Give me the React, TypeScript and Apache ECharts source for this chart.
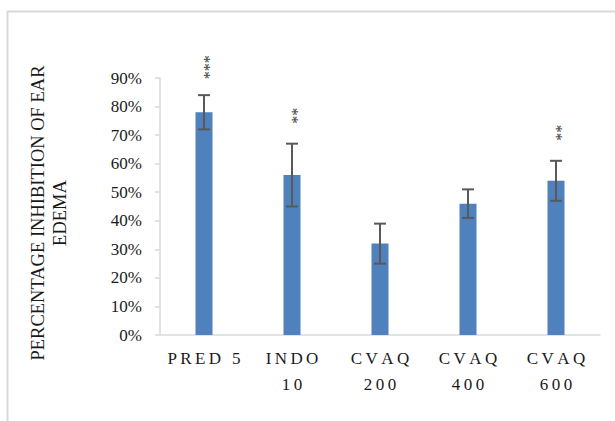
import React, { useEffect, useRef } from "react";
import * as echarts from "echarts";

const categories = ["PRED 5", "INDO\n10", "CVAQ\n200", "CVAQ\n400", "CVAQ\n600"];
const values = [78, 56, 32, 46, 54];
const errors = [6, 11, 7, 5, 7];
const significance = ["***", "**", "", "", "**"];
const yTicks = [0, 10, 20, 30, 40, 50, 60, 70, 80, 90];
const yTitle = "PERCENTAGE INHIBITION OF EAR\nEDEMA";

const FONT = '"Times New Roman", "Liberation Serif", "DejaVu Serif", serif';

function spaced(s: string): string {
  return s
    .split("\n")
    .map((line) => line.split("").join("\u2009"))
    .join("\n");
}

export default function App() {
  const ref = useRef<HTMLDivElement>(null);
  useEffect(() => {
    document.body.style.margin = "0";
    if (!ref.current) return;
    const chart = echarts.init(ref.current, undefined, { renderer: "svg" });
    const errData = values.map((v, i) => [i, v, errors[i]]);
    chart.setOption({
      animation: false,
      backgroundColor: "#ffffff",
      graphic: [
        {
          type: "rect",
          shape: { x: 7.5, y: 11.5, width: 640, height: 440 },
          style: { fill: "none", stroke: "#d9d9d9", lineWidth: 2 },
          silent: true,
        },
        {
          type: "text",
          x: 49,
          y: 213,
          rotation: Math.PI / 2,
          silent: true,
          style: {
            text: yTitle,
            fontFamily: FONT,
            fontSize: 18.5,
            lineHeight: 22,
            fill: "#1a1a1a",
            align: "center",
            verticalAlign: "middle",
          },
        },
      ],
      grid: { left: 160, right: 15, top: 78, bottom: 86 },
      xAxis: {
        type: "category",
        data: categories,
        axisLine: { show: true, lineStyle: { color: "#d9d9d9", width: 1.5 } },
        axisTick: { show: false },
        axisLabel: {
          interval: 0,
          margin: 10,
          fontFamily: FONT,
          fontSize: 17,
          lineHeight: 26,
          color: "#1a1a1a",
          formatter: (v: string) => spaced(v),
        },
      },
      yAxis: {
        type: "value",
        min: yTicks[0],
        max: yTicks[yTicks.length - 1],
        interval: 10,
        splitLine: { show: false },
        axisLine: { show: true, lineStyle: { color: "#d9d9d9", width: 1.5 } },
        axisTick: { show: true, length: 5, lineStyle: { color: "#d9d9d9", width: 1.5 } },
        axisLabel: {
          margin: 18,
          fontFamily: FONT,
          fontSize: 17,
          color: "#1a1a1a",
          formatter: "{value}%",
        },
      },
      series: [
        {
          type: "bar",
          data: values,
          barWidth: 17,
          itemStyle: { color: "#4f81bd" },
        },
        {
          type: "custom",
          data: errData,
          z: 10,
          renderItem: (params: any, api: any) => {
            const idx = api.value(0);
            const v = api.value(1);
            const e = api.value(2);
            const sig = significance[params.dataIndex];
            const top = api.coord([idx, v + e]);
            const bot = api.coord([idx, v - e]);
            const hw = 6;
            const st = { stroke: "#595959", lineWidth: 2 };
            const children: any[] = [
              { type: "line", shape: { x1: top[0], y1: top[1], x2: bot[0], y2: bot[1] }, style: st },
              { type: "line", shape: { x1: top[0] - hw, y1: top[1], x2: top[0] + hw, y2: top[1] }, style: st },
              { type: "line", shape: { x1: bot[0] - hw, y1: bot[1], x2: bot[0] + hw, y2: bot[1] }, style: st },
            ];
            if (sig) {
              children.push({
                type: "text",
                x: top[0],
                y: top[1] - 28,
                rotation: -Math.PI / 2,
                style: {
                  text: sig,
                  fontFamily: FONT,
                  fontSize: 16,
                  fill: "#404040",
                  align: "center",
                  verticalAlign: "middle",
                },
              });
            }
            return { type: "group", children };
          },
        },
      ],
    });
    return () => chart.dispose();
  }, []);
  return (
    <div
      ref={ref}
      style={{ position: "fixed", left: 0, top: 0, width: 615, height: 421 }}
    />
  );
}
